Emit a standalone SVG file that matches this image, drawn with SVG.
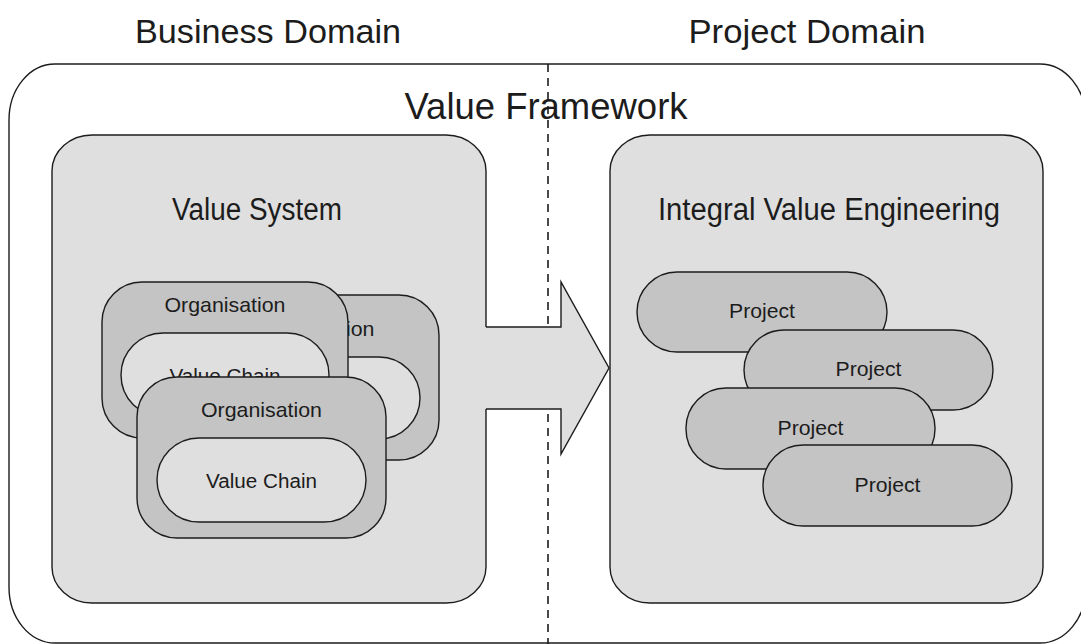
<svg xmlns="http://www.w3.org/2000/svg" width="1081" height="644" viewBox="0 0 1081 644">
<style>
text{font-family:"Liberation Sans",Arial,sans-serif;fill:#1c1c1c;text-anchor:middle}
.ln{stroke:#1c1c1c;stroke-width:1.4}
.lt{fill:#dfdfdf}
.md{fill:#c4c4c4}
.t1{font-size:34px}
.t2{font-size:31px}
.t3{font-size:21px}
.t4{font-size:20px}
</style>
<rect width="1081" height="644" fill="#ffffff"/>
<text class="t1" x="268" y="43" textLength="266" lengthAdjust="spacingAndGlyphs">Business Domain</text>
<text class="t1" x="807" y="43" textLength="237" lengthAdjust="spacingAndGlyphs">Project Domain</text>
<g id="value-framework">
<rect class="ln" x="9" y="64" width="1077" height="579" rx="46" ry="56" fill="#ffffff"/>
<text x="546" y="119" style="font-size:36px" textLength="283" lengthAdjust="spacingAndGlyphs">Value Framework</text>
</g>
<g id="divider">
<line x1="548" y1="64" x2="548" y2="644" stroke="#1c1c1c" stroke-width="1.6" stroke-dasharray="8,6"/>
</g>
<g id="value-system">
<rect class="ln lt" x="52" y="135" width="434" height="468" rx="40" ry="36"/>
<text class="t2" x="257" y="220" textLength="170" lengthAdjust="spacingAndGlyphs">Value System</text>
</g>
<g id="integral-value-engineering">
<rect class="ln lt" x="610" y="135" width="433" height="468" rx="40" ry="36"/>
<text class="t2" x="829" y="220" textLength="342" lengthAdjust="spacingAndGlyphs">Integral Value Engineering</text>
</g>
<g id="connectors">
<polygon class="lt" points="484,327 561,327 561,282 609,368 561,454 561,409 484,409"/>
<polyline class="ln" fill="none" points="486,327 561,327 561,282 609,368 561,454 561,409 486,409"/>
</g>
<g id="organisation-3">
<rect class="ln md" x="190" y="295" width="249" height="165" rx="40" ry="40"/>
<text class="t3" x="314" y="336" textLength="121" lengthAdjust="spacingAndGlyphs">Organisation</text>
<rect class="ln lt" x="211" y="357" width="209" height="82" rx="41" ry="41"/>
</g>
<g id="organisation-1">
<rect class="ln md" x="102" y="282" width="246" height="156" rx="40" ry="40"/>
<text class="t3" x="225" y="312" textLength="121" lengthAdjust="spacingAndGlyphs">Organisation</text>
<rect class="ln lt" x="121" y="333" width="208" height="84" rx="42" ry="42"/>
<text class="t4" x="225" y="383" textLength="111" lengthAdjust="spacingAndGlyphs">Value Chain</text>
</g>
<g id="organisation-2">
<rect class="ln md" x="137" y="377" width="249" height="161" rx="40" ry="40"/>
<text class="t3" x="261.5" y="417" textLength="121" lengthAdjust="spacingAndGlyphs">Organisation</text>
<rect class="ln lt" x="157" y="438" width="209" height="84" rx="42" ry="42"/>
<text class="t4" x="261.5" y="488" textLength="111" lengthAdjust="spacingAndGlyphs">Value Chain</text>
</g>
<g id="project-1">
<rect class="ln md" x="637" y="272" width="250" height="80" rx="40" ry="40"/>
<text class="t4" x="762" y="318" textLength="66" lengthAdjust="spacingAndGlyphs">Project</text>
</g>
<g id="project-2">
<rect class="ln md" x="744" y="330" width="249" height="80" rx="40" ry="40"/>
<text class="t4" x="868.5" y="376" textLength="66" lengthAdjust="spacingAndGlyphs">Project</text>
</g>
<g id="project-3">
<rect class="ln md" x="686" y="388" width="249" height="81" rx="40" ry="40"/>
<text class="t4" x="810.5" y="435" textLength="66" lengthAdjust="spacingAndGlyphs">Project</text>
</g>
<g id="project-4">
<rect class="ln md" x="763" y="445" width="249" height="81" rx="40" ry="40"/>
<text class="t4" x="887.5" y="492" textLength="66" lengthAdjust="spacingAndGlyphs">Project</text>
</g>
</svg>
